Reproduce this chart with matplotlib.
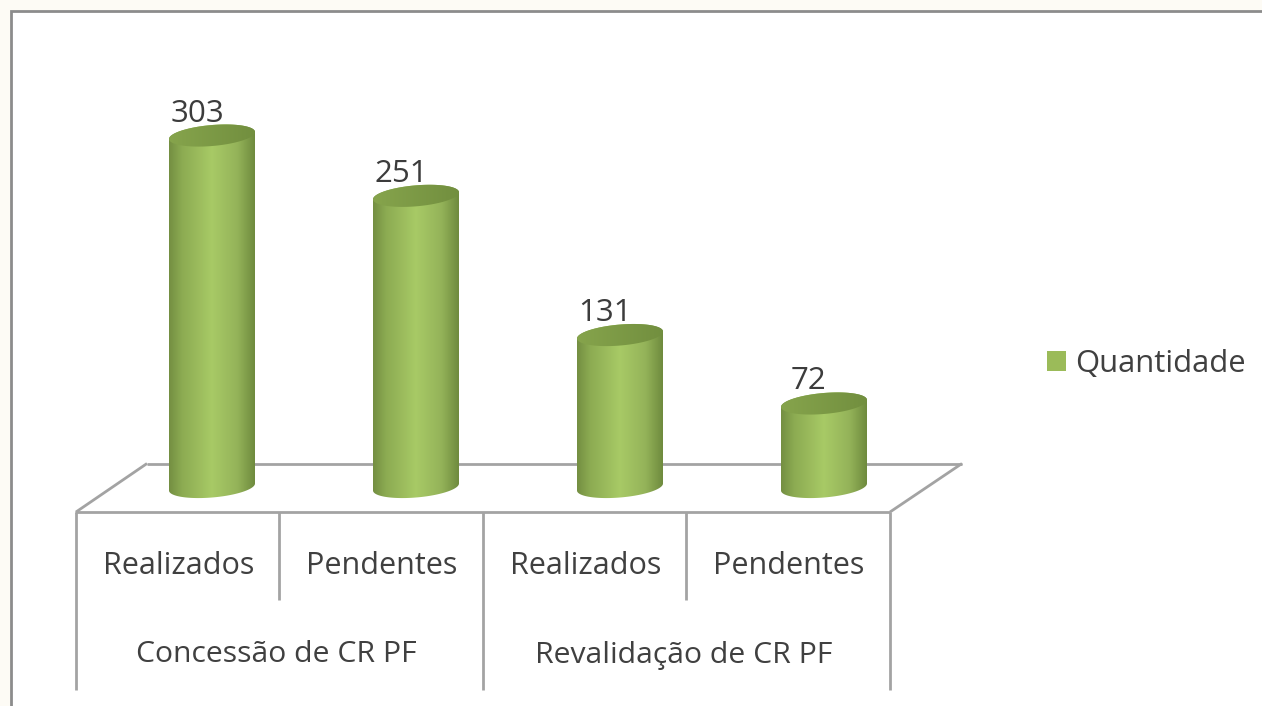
import numpy as np
import matplotlib
matplotlib.use('Agg')
import matplotlib.pyplot as plt
from matplotlib.colors import LinearSegmentedColormap
from matplotlib.patches import Patch, Polygon

categories=['Realizados','Pendentes','Realizados','Pendentes']
groups=['Concessão de CR PF','Revalidação de CR PF']
values=[303,251,131,72]
series_name='Quantidade'

W,H=1262,706
plt.rcParams['font.family']=['Open Sans','DejaVu Sans']
fig=plt.figure(figsize=(W/100,H/100),dpi=100,facecolor='#fdfbf5')

# furniture in pixel coordinates
bg=fig.add_axes([0,0,1,1],zorder=0)
bg.set_xlim(0,W)
bg.set_ylim(H,0)
bg.axis('off')
bg.add_patch(plt.Rectangle((11,11),W+20,H+20,fc='white',ec='#8c8c8c',lw=2))
line='#a3a3a3'
def seg(x0,y0,x1,y1):
    bg.plot([x0,x1],[y0,y1],color=line,lw=2,solid_capstyle='butt')
seg(76,512,147,463.5)
seg(147,463.5,962,463.5)
seg(962,463.5,890,512)
seg(75,512,890,512)
seg(76,512,76,690)
seg(890,512,890,690)
seg(483,512,483,690)
seg(279,512,279,600)
seg(686,512,686,600)

# chart axes: 1.16 px per unit, zero at y=487, bars 204 px apart from x=212
sc=1.16
ax=fig.add_axes([0,0,1,1],zorder=1)
ax.patch.set_alpha(0)
ax.axis('off')

body=LinearSegmentedColormap.from_list('body',[(0,'#748f42'),(0.15,'#8cab52'),(0.5,'#a8ca66'),(0.8,'#94b359'),(1,'#6f8b3e')])
cap=LinearSegmentedColormap.from_list('cap',['#86a44c','#728f3f'])
grad=np.linspace(0,1,128).reshape(1,-1)
a=43/204
b=10.5/sc
s=3.5/sc
t=np.linspace(0,np.pi,60)
for i,v in enumerate(values):
    xs=np.cos(t)*a
    # outline: top half of top ellipse, then bottom half of base ellipse
    topy=v+b*np.sin(t)+s*np.cos(t)
    boty=-b*np.sin(t[::-1])+s*np.cos(t[::-1])
    outline=np.column_stack([np.r_[i+xs,i+xs[::-1]],np.r_[topy,boty]])
    im=ax.imshow(grad,cmap=body,extent=[i-a,i+a,-20,v+20],aspect='auto',zorder=2,interpolation='bilinear')
    im.set_clip_path(Polygon(outline,transform=ax.transData))
    tt=np.linspace(0,2*np.pi,120)
    ell=np.column_stack([i+a*np.cos(tt),v+b*np.sin(tt)+s*np.cos(tt)])
    im2=ax.imshow(grad,cmap=cap,extent=[i-a,i+a,v-20,v+20],aspect='auto',zorder=3,interpolation='bilinear')
    im2.set_clip_path(Polygon(ell,transform=ax.transData))
    ax.text(i-15/204,v+22/sc,str(v),ha='center',va='center',fontsize=22.5,color='#3c3c3c',zorder=4)
ax.set_xlim(-212/204,(W-212)/204)
ax.set_ylim(-(H-487)/sc,487/sc)

for i,c in enumerate(categories):
    ax.text(i-33/204-0.004*i,-(566-487)/sc,c,ha='center',va='center',fontsize=22,color='#404040')
for j,g in enumerate(groups):
    ax.text(2*j+0.5-38/204,-(655-487)/sc,g,ha='center',va='center',fontsize=21.7,color='#404040')

leg=ax.legend(handles=[Patch(fc='#9bbb59',ec='none',label=series_name)],loc='center left',
    bbox_to_anchor=(1047/W,1-364/H),frameon=False,fontsize=22.3,handlelength=0.61,handleheight=0.61,
    handletextpad=0.3,borderpad=0,borderaxespad=0,labelcolor='#404040')

fig.savefig('out.png',dpi=100)
